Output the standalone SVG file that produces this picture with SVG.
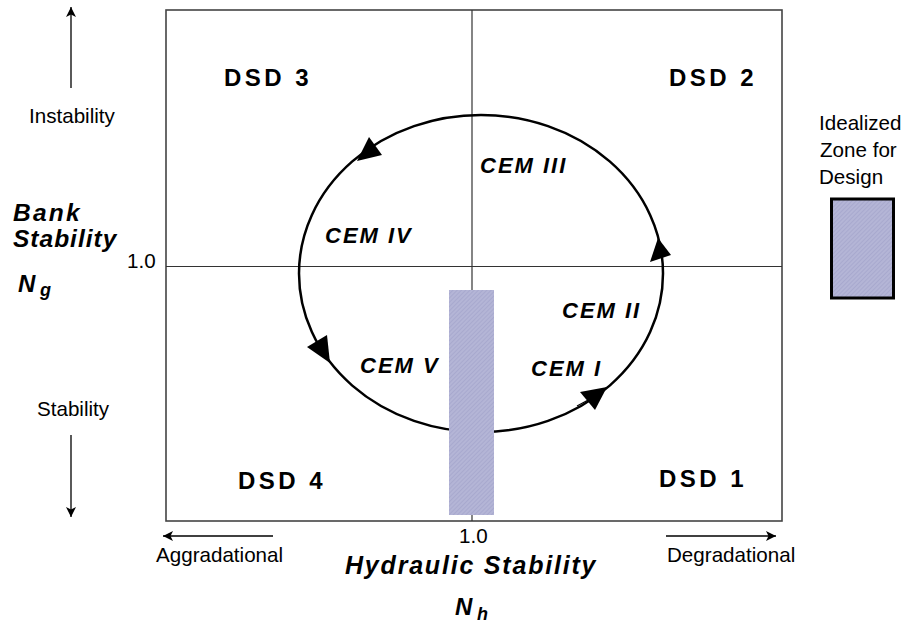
<svg xmlns="http://www.w3.org/2000/svg" width="904" height="623" viewBox="0 0 904 623">
<defs>
<pattern id="hatch" width="3" height="3" patternUnits="userSpaceOnUse" patternTransform="rotate(45)">
<rect width="3" height="3" fill="#b4b5d6"/>
<line x1="0" y1="0" x2="0" y2="3" stroke="#9d9ec6" stroke-width="1"/>
</pattern>
<marker id="ah" viewBox="0 0 10 10" refX="10" refY="5" markerWidth="10" markerHeight="10" markerUnits="userSpaceOnUse" orient="auto">
<path d="M0,0 L10,5 L0,10 L2.5,5 z" fill="#000"/>
</marker>
<style>
text{font-family:"Liberation Sans",Arial,sans-serif;fill:#000}
.reg{font-size:20.6px}
.dsd{font-size:24px;font-weight:bold;letter-spacing:3.5px}
.cem{font-size:22px;font-weight:bold;font-style:italic;letter-spacing:2px}
.ax{font-size:24.5px;font-weight:bold;font-style:italic;letter-spacing:1.5px}
.sub{font-size:18px;font-weight:bold;font-style:italic}
.axl{stroke:#000;stroke-width:1.3;fill:none}
.head{fill:#000}
</style>
</defs>
<rect width="904" height="623" fill="#fff"/>
<g id="frame">
<rect x="166" y="10" width="616" height="511" fill="none" stroke="#444" stroke-width="1.6"/>
<line x1="472" y1="10" x2="472" y2="521" stroke="#333" stroke-width="1.2"/>
<line x1="166" y1="266.5" x2="782" y2="266.5" stroke="#333" stroke-width="1.2"/>
</g>
<g id="connectors">
<ellipse cx="481" cy="273.5" rx="182" ry="158.5" fill="none" stroke="#000" stroke-width="2.5"/>
<polygon class="head" points="369,137 382,155 357,161"/>
<polygon class="head" points="650,262 671,255 658,238"/>
<polygon class="head" points="580,392 595,410 607,387"/>
<polygon class="head" points="307,347 327,335 330,363"/>
<line x1="577" y1="406" x2="590" y2="399" stroke="#000" stroke-width="1.2"/>
<line class="axl" x1="71" y1="88" x2="71" y2="7" marker-end="url(#ah)"/>
<line class="axl" x1="71" y1="435" x2="71" y2="517" marker-end="url(#ah)"/>
<line class="axl" x1="273" y1="536" x2="163" y2="536" marker-end="url(#ah)"/>
<line class="axl" x1="666" y1="536" x2="776" y2="536" marker-end="url(#ah)"/>
</g>
<g id="design-zone">
<rect x="449" y="290" width="45" height="225" fill="url(#hatch)"/>
</g>
<g id="dsd-labels">
<text class="dsd" x="224" y="86">DSD 3</text>
<text class="dsd" x="669" y="86">DSD 2</text>
<text class="dsd" x="238" y="489">DSD 4</text>
<text class="dsd" x="659" y="487">DSD 1</text>
</g>
<g id="cem-labels">
<text class="cem" x="480" y="173">CEM III</text>
<text class="cem" x="325" y="243">CEM IV</text>
<text class="cem" x="562" y="318">CEM II</text>
<text class="cem" x="360" y="373">CEM V</text>
<text class="cem" x="531" y="376">CEM I</text>
</g>
<g id="y-axis">
<text class="reg" x="29" y="123">Instability</text>
<text class="reg" x="37" y="416">Stability</text>
<text class="ax" x="13" y="221" style="letter-spacing:2.2px">Bank</text>
<text class="ax" x="13" y="247" style="letter-spacing:1px">Stability</text>
<text class="reg" x="127" y="268">1.0</text>
<text class="ax" x="18" y="292" style="font-size:24px">N</text>
<text class="sub" x="40" y="296">g</text>
</g>
<g id="x-axis">
<text class="reg" x="459" y="543">1.0</text>
<text class="reg" x="156" y="562">Aggradational</text>
<text class="reg" x="667" y="562">Degradational</text>
<text class="ax" x="345" y="574" style="font-size:25px;letter-spacing:1.8px">Hydraulic Stability</text>
<text class="ax" x="455" y="615" style="font-size:24px">N</text>
<text class="sub" x="477" y="620">h</text>
</g>
<g id="legend">
<text class="reg" x="819" y="130">Idealized</text>
<text class="reg" x="820" y="157">Zone for</text>
<text class="reg" x="819" y="184">Design</text>
<rect x="831.5" y="199" width="62" height="99" fill="url(#hatch)" stroke="#000" stroke-width="3"/>
</g>
</svg>
